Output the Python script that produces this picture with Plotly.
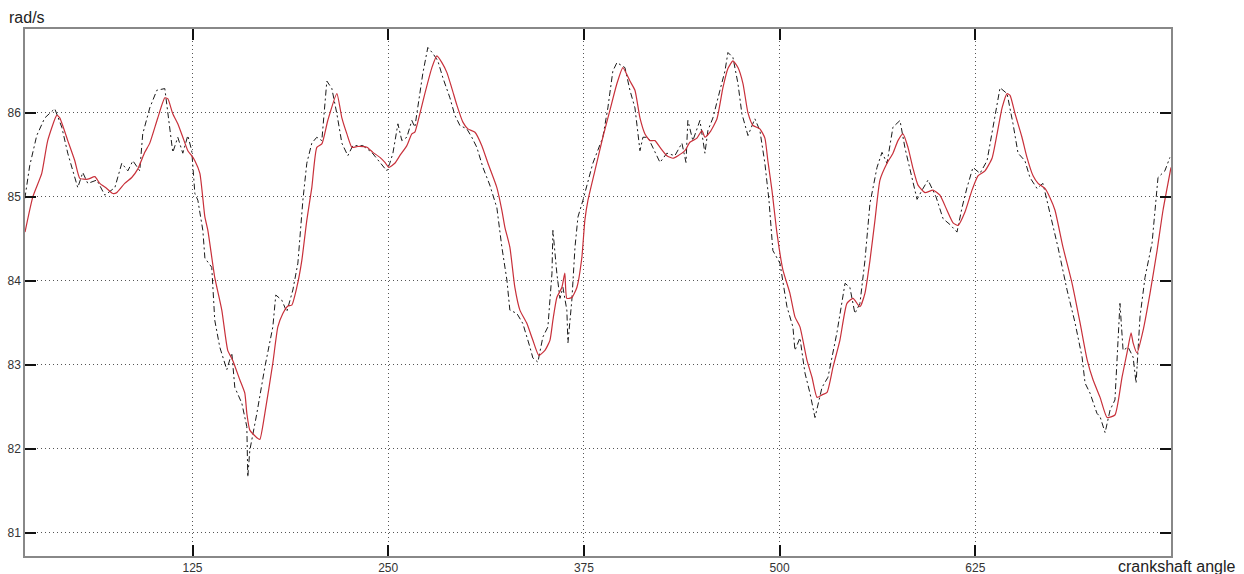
import plotly.graph_objects as go

# Estimated (red, solid) speed trace
red_angle = [18.0, 23.0, 28.7, 32.5, 38.3, 40.2, 45.3, 49.8, 53.0, 58.1, 62.6, 65.8, 70.2, 74.1, 76.6,
             81.7, 86.2, 90.0, 94.5, 97.7, 102.8, 107.3, 109.2, 112.4, 115.6, 118.8, 122.0, 124.5,
             126.5, 129.7, 132.9, 134.8, 139.2, 143.7, 147.5, 150.7, 155.2, 158.4, 159.7, 161.6,
             166.1, 168.0, 171.2, 176.3, 179.5, 182.7, 185.9, 188.4, 191.6, 194.8, 198.0, 201.2,
             204.4, 207.6, 211.4, 217.2, 220.4, 223.6, 226.8, 230.6, 236.4, 240.2, 244.7, 247.9,
             250.4, 254.2, 257.4, 261.9, 265.1, 267.0, 268.9, 273.4, 277.9, 281.1, 284.3, 287.5,
             290.7, 293.9, 297.7, 300.9, 305.4, 309.8, 313.7, 319.4, 322.6, 324.5, 327.7, 330.9,
             334.1, 338.6, 342.4, 346.2, 350.1, 353.3, 355.2, 357.7, 360.9, 362.8, 364.1, 367.3,
             370.5, 373.7, 375.6, 377.6, 382.0, 387.1, 391.6, 396.1, 399.9, 404.4, 407.6, 410.8,
             414.0, 417.2, 420.4, 423.6, 428.0, 431.9, 435.1, 439.5, 442.7, 447.2, 450.4, 452.3,
             455.5, 460.0, 463.8, 467.0, 470.2, 473.4, 476.6, 479.8, 483.0, 487.4, 490.6, 492.5,
             495.1, 498.3, 502.1, 506.6, 509.8, 513.0, 517.5, 520.7, 523.9, 527.1, 530.3, 534.1,
             538.5, 543.0, 546.9, 551.3, 554.5, 557.7, 560.9, 564.1, 568.6, 572.4, 575.6, 578.8,
             582.0, 585.2, 588.4, 592.9, 598.0, 602.4, 606.9, 610.8, 614.0, 618.4, 622.9, 626.7,
             631.2, 635.7, 638.9, 642.1, 645.3, 647.2, 650.4, 654.8, 658.0, 661.9, 665.1, 669.5,
             672.7, 675.9, 681.0, 686.8, 691.9, 696.4, 700.2, 704.7, 709.2, 714.2, 718.7, 721.9,
             724.5, 725.8, 728.3, 732.2, 736.6, 741.1, 744.9, 750.0]
red_speed = [84.58, 85.00, 85.28, 85.67, 85.97, 85.94, 85.67, 85.43, 85.22, 85.21, 85.24, 85.16, 85.10,
             85.04, 85.05, 85.16, 85.23, 85.33, 85.53, 85.64, 85.94, 86.18, 86.17, 85.99, 85.87,
             85.71, 85.55, 85.49, 85.43, 85.28, 84.76, 84.60, 84.04, 83.65, 83.17, 83.05, 82.82,
             82.66, 82.42, 82.22, 82.13, 82.11, 82.42, 83.02, 83.45, 83.61, 83.70, 83.71, 83.92,
             84.24, 84.72, 85.11, 85.59, 85.63, 85.91, 86.23, 85.94, 85.75, 85.59, 85.60, 85.59,
             85.53, 85.47, 85.41, 85.35, 85.40, 85.49, 85.61, 85.75, 85.77, 85.89, 86.23, 86.54,
             86.68, 86.60, 86.48, 86.29, 86.09, 85.89, 85.81, 85.77, 85.61, 85.40, 85.11, 84.84,
             84.64, 84.40, 83.92, 83.65, 83.49, 83.29, 83.11, 83.17, 83.29, 83.53, 83.80, 83.92,
             84.09, 83.79, 83.80, 83.92, 84.28, 84.72, 84.96, 85.31, 85.71, 86.03, 86.35, 86.54,
             86.38, 86.27, 85.94, 85.75, 85.67, 85.67, 85.59, 85.49, 85.46, 85.49, 85.55, 85.65,
             85.70, 85.79, 85.71, 85.77, 85.93, 86.30, 86.53, 86.62, 86.54, 86.35, 86.00, 85.85,
             85.81, 85.70, 85.43, 85.08, 84.57, 84.13, 83.85, 83.57, 83.45, 83.05, 82.85, 82.61,
             82.64, 82.67, 82.97, 83.29, 83.73, 83.79, 83.69, 83.85, 84.24, 84.72, 85.20, 85.40,
             85.52, 85.67, 85.75, 85.59, 85.34, 85.14, 85.05, 85.08, 85.02, 84.84, 84.69, 84.66,
             84.82, 85.08, 85.25, 85.31, 85.46, 85.75, 86.06, 86.23, 86.21, 85.99, 85.71, 85.47,
             85.25, 85.16, 85.10, 84.99, 84.84, 84.40, 83.97, 83.50, 83.06, 82.82, 82.61, 82.37,
             82.40, 82.85, 83.14, 83.38, 83.26, 83.14, 83.41, 83.85, 84.36, 84.84, 85.35]

# Measured (black, dash-dot) speed trace
blk_angle = [17.9, 21.0, 25.5, 30.6, 37.0, 41.5, 45.3, 51.7, 54.9, 58.1, 63.9, 69.0, 75.4, 79.8, 83.7,
             86.9, 91.3, 93.2, 97.7, 102.2, 107.3, 110.5, 112.4, 115.6, 118.8, 122.0, 124.5, 126.5,
             128.4, 131.6, 132.9, 137.3, 139.2, 142.4, 146.9, 150.1, 152.0, 156.5, 159.7, 160.3,
             161.6, 166.1, 171.2, 176.3, 178.2, 182.0, 185.2, 189.1, 192.3, 195.5, 198.0, 201.2,
             204.4, 207.6, 210.8, 214.0, 217.2, 220.4, 224.2, 227.4, 233.8, 239.5, 244.7, 249.1,
             251.0, 253.0, 256.2, 258.7, 261.9, 265.1, 267.0, 268.9, 272.1, 275.3, 278.5, 281.7,
             284.9, 289.4, 292.6, 295.8, 300.2, 303.4, 306.6, 310.5, 314.9, 319.4, 322.6, 325.8,
             327.7, 332.2, 336.0, 340.5, 342.4, 345.6, 348.8, 352.0, 354.6, 355.2, 357.7, 359.7,
             361.6, 364.1, 364.8, 367.3, 369.3, 371.2, 374.4, 380.7, 387.1, 390.3, 393.5, 396.1,
             401.2, 404.4, 407.6, 410.8, 412.7, 415.9, 419.1, 423.6, 428.0, 433.1, 437.6, 440.2,
             441.4, 444.6, 449.1, 452.3, 454.2, 457.4, 461.9, 465.1, 467.0, 470.2, 473.4, 475.9,
             479.8, 484.2, 487.4, 490.6, 493.2, 495.7, 500.2, 504.7, 508.5, 509.8, 513.0, 516.2,
             519.4, 522.6, 527.1, 530.9, 536.6, 541.8, 544.9, 548.1, 551.3, 554.5, 557.7, 562.2,
             565.4, 568.6, 572.4, 576.9, 580.1, 584.6, 587.8, 591.0, 594.8, 599.9, 604.4, 608.8,
             613.3, 616.5, 619.7, 623.5, 628.0, 632.5, 636.3, 640.8, 645.3, 649.1, 652.3, 656.7,
             659.9, 664.4, 668.2, 672.7, 677.8, 683.6, 688.7, 693.2, 695.1, 698.3, 702.7, 704.7,
             707.9, 711.1, 714.2, 717.4, 719.4, 722.6, 725.8, 727.7, 730.2, 733.4, 737.9, 741.7,
             746.1, 749.3]
blk_speed = [84.98, 85.37, 85.73, 85.94, 86.05, 85.83, 85.52, 85.11, 85.29, 85.16, 85.20, 85.02, 85.11,
             85.40, 85.31, 85.43, 85.31, 85.75, 86.06, 86.27, 86.29, 85.79, 85.53, 85.71, 85.52,
             85.73, 85.55, 85.04, 84.96, 84.60, 84.27, 84.16, 83.53, 83.21, 82.94, 83.14, 82.73,
             82.54, 82.26, 81.66, 81.98, 82.42, 82.97, 83.45, 83.83, 83.77, 83.63, 83.89, 84.21,
             84.96, 85.40, 85.64, 85.71, 85.67, 86.38, 86.29, 85.99, 85.64, 85.49, 85.61, 85.61,
             85.53, 85.41, 85.31, 85.40, 85.52, 85.87, 85.67, 85.71, 85.91, 85.83, 86.06, 86.47,
             86.78, 86.71, 86.62, 86.42, 86.18, 85.97, 85.85, 85.81, 85.71, 85.59, 85.35, 85.14,
             84.87, 84.40, 84.01, 83.65, 83.61, 83.49, 83.21, 83.08, 83.03, 83.33, 83.45, 84.09,
             84.60, 84.09, 83.79, 83.92, 83.65, 83.26, 83.77, 84.40, 84.76, 84.96, 85.40, 85.71,
             86.06, 86.50, 86.60, 86.54, 86.27, 86.06, 85.55, 85.71, 85.71, 85.59, 85.41, 85.52,
             85.49, 85.64, 85.41, 85.91, 85.67, 85.91, 85.52, 85.79, 85.94, 86.27, 86.50, 86.72,
             86.66, 86.35, 85.99, 85.73, 85.93, 85.79, 85.40, 84.96, 84.36, 84.21, 83.69, 83.45,
             83.17, 83.32, 82.90, 82.66, 82.37, 82.73, 82.85, 83.38, 83.97, 83.92, 83.61, 83.73,
             84.24, 84.92, 85.35, 85.53, 85.40, 85.83, 85.91, 85.58, 85.20, 84.97, 85.08, 85.20,
             85.00, 84.74, 84.67, 84.58, 84.87, 85.11, 85.35, 85.28, 85.43, 85.83, 86.30, 86.23,
             85.87, 85.52, 85.43, 85.23, 85.10, 85.16, 84.80, 84.40, 83.89, 83.50, 83.09, 82.78,
             82.66, 82.42, 82.38, 82.19, 82.46, 82.58, 83.73, 83.17, 83.21, 83.09, 82.78, 83.57,
             84.04, 84.45, 85.23, 85.31, 85.47]

x_ticks = [125, 250, 375, 500, 625]
y_ticks = [81, 82, 83, 84, 85, 86]

FONT = "Liberation Sans, Arial, sans-serif"

fig = go.Figure()
fig.add_trace(go.Scatter(
    x=blk_angle, y=blk_speed, mode="lines",
    line=dict(color="#1a1a1a", width=1, dash="6px,3px,2px,3px"),
    showlegend=False, hoverinfo="skip"))
fig.add_trace(go.Scatter(
    x=red_angle, y=red_speed, mode="lines",
    line=dict(color="#c8303a", width=1.2, shape="spline", smoothing=0.5),
    showlegend=False, hoverinfo="skip"))

axis_common = dict(
    showline=True, linecolor="#888888", linewidth=1.5, mirror="ticks",
    ticks="inside", ticklen=11, tickcolor="#111111", tickwidth=1.5,
    showgrid=True, gridcolor="#555555", gridwidth=1, griddash="1px,3px",
    zeroline=False, tickfont=dict(family=FONT, size=12, color="#333333"),
    automargin=False,
)

fig.update_xaxes(range=[18, 750], tickvals=x_ticks, ticktext=[str(v) for v in x_ticks], **axis_common)
fig.update_yaxes(range=[80.72, 87.0], tickvals=y_ticks, ticktext=[str(v) for v in y_ticks], **axis_common)

fig.update_layout(
    width=1244, height=574,
    margin=dict(l=25, r=73, t=29, b=18),
    paper_bgcolor="white", plot_bgcolor="white",
    annotations=[
        dict(text="rad/s", xref="paper", yref="paper", x=0, y=1.0, xanchor="left",
             yanchor="middle", xshift=-18, yshift=12, showarrow=False,
             font=dict(family=FONT, size=16, color="#222222")),
        dict(text="crankshaft angle", xref="paper", yref="paper", x=1.0, y=0.0,
             xanchor="left", yanchor="middle", xshift=-55, yshift=-10, showarrow=False,
             font=dict(family=FONT, size=16, color="#222222")),
    ],
)

fig.write_html("out.html", config={"displayModeBar": False},
               post_script="document.body.style.margin='0';document.body.style.overflow='hidden';")
